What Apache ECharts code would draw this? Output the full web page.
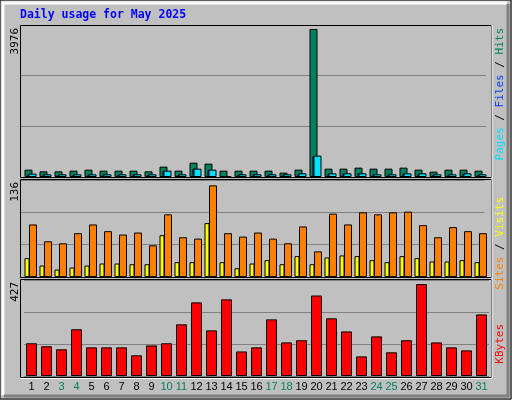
<!DOCTYPE html>
<html>
<head>
<meta charset="utf-8">
<script src="https://cdn.jsdelivr.net/npm/echarts@6/dist/echarts.min.js"></script>
<style>
html, body { margin: 0; padding: 0; background: #c0c0c0; }
#chart { width: 512px; height: 400px; }
</style>
</head>
<body>
<div id="chart"></div>
<script>
// day labels and weekend days
const days = ["1","2","3","4","5","6","7","8","9","10","11","12","13","14","15","16","17","18","19","20","21","22","23","24","25","26","27","28","29","30","31"];
const weekend = ["3","4","10","11","17","18","24","25","31"];

// top panel
const hits = [197,152,152,170,197,170,170,170,152,278,170,385,359,170,170,170,170,117,197,3976,224,224,251,224,224,251,197,143,197,197,170];
const pages = [90,72,72,72,72,72,72,72,72,170,72,224,197,20,72,72,72,72,99,574,99,99,99,72,72,99,99,72,72,99,72];
const files = [80,65,65,65,65,65,65,65,65,160,65,224,190,20,65,65,65,65,90,560,90,90,90,65,65,90,90,65,65,90,65];

// middle panel
const visits = [28,17,11,14,17,20,20,19,19,62,22,22,80,22,13,20,25,19,31,19,29,32,31,25,22,31,28,23,23,25,22];
const sites = [78,53,50,65,78,68,63,66,47,93,59,57,136,65,60,66,57,50,75,38,94,78,96,93,96,97,77,59,74,68,65];

// bottom panel
const kbytes = [152,138,124,217,133,133,133,96,142,152,240,342,212,356,114,133,263,156,166,374,268,207,91,184,110,166,427,156,133,119,286];

const chart = echarts.init(document.getElementById("chart"));

const W = 465, L = 23.5;
function mkGrid(top, height, dx) {
	return {left: L + dx, top: top, width: W, height: height, show: false};
}
function mkX(gridIndex, showLabels) {
	return {
		type: "category", gridIndex: gridIndex, data: days,
		axisLine: {show: false}, axisTick: {show: false},
		axisLabel: showLabels ? {
			show: true, interval: 0, margin: 5, fontFamily: "Liberation Sans", fontSize: 11,
			color: (v) => weekend.includes(v) ? "#008060" : "#000"
		} : {show: false}
	};
}
function mkY(gridIndex, max, showSplit) {
	return {
		type: "value", gridIndex: gridIndex, min: 0, max: max, interval: max / 3,
		axisLabel: {show: false}, axisLine: {show: false}, axisTick: {show: false},
		splitLine: {show: showSplit, lineStyle: {color: "#808080", width: 1}}
	};
}
function mkBar(idx, data, color, width) {
	return {
		type: "bar", xAxisIndex: idx, yAxisIndex: idx, data: data, barWidth: width,
		itemStyle: {color: color, borderColor: "#000", borderWidth: 1},
		animation: false, silent: true
	};
}

const rot = Math.PI / 2;
function vText(x, y, rich, text, size) {
	return {
		type: "text", x: x, y: y, rotation: rot, silent: true,
		style: {
			text: text, rich: rich, align: "right", verticalAlign: "middle",
			fontFamily: "DejaVu Sans Mono", fontSize: size || 11
		}
	};
}

chart.setOption({
	backgroundColor: "#c0c0c0",
	animation: false,
	grid: [
		mkGrid(25, 152, -2.5),   // hits
		mkGrid(25, 152, -2),     // files
		mkGrid(25, 152, 1.5),    // pages
		mkGrid(180, 97, -4),     // visits (yellow)
		mkGrid(180, 97, 2),      // sites (orange)
		mkGrid(280, 96, 0.5)     // kbytes
	],
	xAxis: [mkX(0), mkX(1), mkX(2), mkX(3), mkX(4), mkX(5, true)],
	yAxis: [mkY(0, 4083, true), mkY(1, 4083), mkY(2, 4083),
		mkY(3, 144, true), mkY(4, 144), mkY(5, 446, true)],
	series: [
		mkBar(0, hits, "#00805c", 8),
		mkBar(1, files, "#0040ff", 3),
		mkBar(2, pages, "#00e0ff", 8),
		mkBar(3, visits, "#ffff00", 5),
		mkBar(4, sites, "#ff8000", 8),
		mkBar(5, kbytes, "#ff0000", 11)
	],
	graphic: [
		// bevelled frame
		{type: "rect", shape: {x: 0, y: 0, width: 511, height: 399}, style: {fill: "none", stroke: "#000", lineWidth: 1}, silent: true},
		{type: "polyline", shape: {points: [[3, 395], [3, 3], [507, 3]]}, style: {stroke: "#fff", lineWidth: 3, fill: "none"}, silent: true},
		{type: "polyline", shape: {points: [[4, 396], [508, 396], [508, 4]]}, style: {stroke: "#808080", lineWidth: 3, fill: "none"}, silent: true},
		// panel borders
		{type: "rect", shape: {x: 20.5, y: 25.5, width: 471, height: 152}, style: {fill: "none", stroke: "#000", lineWidth: 1}, silent: true, z: 10},
		{type: "rect", shape: {x: 20.5, y: 179.5, width: 471, height: 98}, style: {fill: "none", stroke: "#000", lineWidth: 1}, silent: true, z: 10},
		{type: "rect", shape: {x: 20.5, y: 279.5, width: 471, height: 98}, style: {fill: "none", stroke: "#000", lineWidth: 1}, silent: true, z: 10},
		{type: "polyline", shape: {points: [[20.5, 378.5], [492, 378.5], [492, 25]]}, style: {stroke: "#fff", lineWidth: 1, fill: "none"}, silent: true, z: 10},
		// title
		{type: "text", x: 20, y: 15, silent: true, style: {text: "Daily usage for May 2025", fill: "#0000ff", fontFamily: "DejaVu Sans Mono", fontWeight: "bold", fontSize: 11.5, verticalAlign: "middle"}},
		// max values
		vText(15, 28, {}, "3976", 11),
		vText(15, 182, {}, "136", 11),
		vText(15, 282, {}, "427", 11),
		// series labels
		vText(500, 28, {p: {fill: "#00e0ff"}, f: {fill: "#0040ff"}, h: {fill: "#00805c"}, s: {fill: "#000"}},
			"{p|Pages}{s| / }{f|Files}{s| / }{h|Hits}", 11),
		vText(500, 197, {a: {fill: "#ff8000"}, b: {fill: "#ffff00"}, s: {fill: "#000"}},
			"{a|Sites}{s| / }{b|Visits}", 11),
		vText(500, 324, {k: {fill: "#ff0000"}}, "{k|KBytes}", 11)
	]
});
</script>
</body>
</html>
